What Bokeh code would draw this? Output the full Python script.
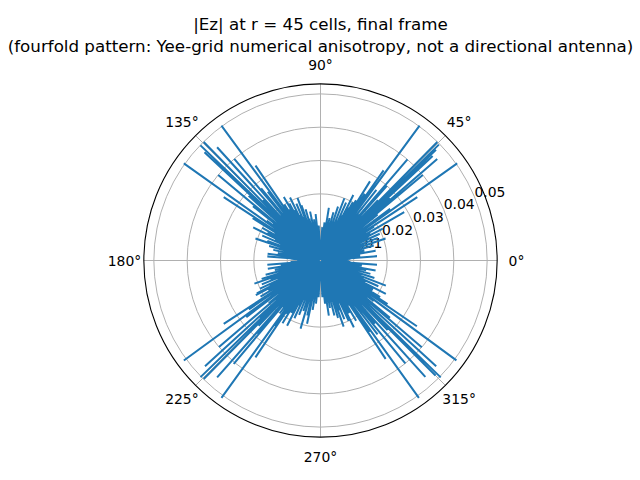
import numpy as np
from bokeh.plotting import figure
from bokeh.models import Range1d
from bokeh.core.properties import value
from bokeh.embed import file_html
from bokeh.resources import INLINE

# ---- data: |Ez| sampled on the ring r = 45 cells, (angle deg, peak, following trough)
ring_q1 = [
    (1.2, 0.0085, 0.0020), (2.8, 0.0090, 0.0012), (4.2, 0.0170, 0.0030), (5.6, 0.0065, 0.0003),
    (7.0, 0.0120, 0.0025), (8.4, 0.0100, 0.0015), (10.0, 0.0168, 0.0034), (11.4, 0.0080, 0.0010),
    (12.8, 0.0135, 0.0022), (14.3, 0.0110, 0.0018), (15.8, 0.0166, 0.0002), (17.2, 0.0120, 0.0028),
    (18.7, 0.0206, 0.0014), (20.1, 0.0140, 0.0031), (21.5, 0.0185, 0.0004), (22.9, 0.0125, 0.0024),
    (24.3, 0.0195, 0.0017), (25.7, 0.0160, 0.0033), (27.0, 0.0210, 0.0011), (28.4, 0.0170, 0.0026),
    (30.0, 0.0290, 0.0003), (31.4, 0.0160, 0.0021), (32.4, 0.0190, 0.0016), (33.2, 0.0347, 0.0029),
    (34.4, 0.0170, 0.0010), (35.4, 0.0503, 0.0023), (36.6, 0.0260, 0.0013), (37.8, 0.0150, 0.0032),
    (38.8, 0.0220, 0.0004), (39.9, 0.0400, 0.0019), (41.0, 0.0464, 0.0027), (42.1, 0.0280, 0.0012),
    (43.0, 0.0460, 0.0035), (43.8, 0.0480, 0.0005), (44.4, 0.0497, 0.0020), (45.4, 0.0499, 0.0015),
    (46.4, 0.0250, 0.0030), (47.5, 0.0160, 0.0002), (48.4, 0.0300, 0.0024), (49.3, 0.0400, 0.0018),
    (50.5, 0.0180, 0.0033), (51.6, 0.0270, 0.0011), (52.7, 0.0150, 0.0026), (53.7, 0.0502, 0.0014),
    (55.0, 0.0330, 0.0029), (56.4, 0.0240, 0.0004), (58.0, 0.0280, 0.0022), (59.5, 0.0210, 0.0016),
    (61.0, 0.0200, 0.0031), (62.5, 0.0180, 0.0010), (63.4, 0.0220, 0.0025), (64.8, 0.0150, 0.0013),
    (66.2, 0.0190, 0.0034), (67.6, 0.0130, 0.0003), (69.0, 0.0200, 0.0021), (70.5, 0.0120, 0.0017),
    (72.0, 0.0170, 0.0028), (73.5, 0.0105, 0.0012), (75.0, 0.0150, 0.0023), (76.5, 0.0095, 0.0005),
    (78.0, 0.0130, 0.0030), (79.5, 0.0085, 0.0015), (81.0, 0.0160, 0.0026), (82.5, 0.0080, 0.0011),
    (84.0, 0.0115, 0.0032), (85.5, 0.0060, 0.0014), (87.0, 0.0100, 0.0024), (88.5, 0.0055, 0.0010),
]
ring_q2 = [
    (91.5, 0.0060, 0.0018), (93.0, 0.0105, 0.0004), (94.5, 0.0070, 0.0027), (96.0, 0.0140, 0.0013),
    (97.5, 0.0090, 0.0031), (99.0, 0.0125, 0.0002), (100.5, 0.0080, 0.0022), (102.0, 0.0150, 0.0016),
    (103.5, 0.0110, 0.0034), (105.0, 0.0130, 0.0011), (106.2, 0.0160, 0.0025), (107.6, 0.0120, 0.0019),
    (109.0, 0.0175, 0.0003), (110.2, 0.0200, 0.0029), (111.6, 0.0140, 0.0014), (113.0, 0.0185, 0.0032),
    (114.4, 0.0150, 0.0010), (115.8, 0.0210, 0.0023), (117.2, 0.0170, 0.0017), (118.6, 0.0195, 0.0030),
    (120.0, 0.0220, 0.0002), (121.4, 0.0180, 0.0021), (122.8, 0.0200, 0.0015), (124.4, 0.0345, 0.0028),
    (125.4, 0.0160, 0.0012), (126.3, 0.0502, 0.0024), (127.5, 0.0260, 0.0005), (128.6, 0.0170, 0.0033),
    (129.5, 0.0280, 0.0018), (130.3, 0.0400, 0.0026), (131.4, 0.0180, 0.0011), (132.4, 0.0460, 0.0030),
    (133.5, 0.0250, 0.0003), (134.6, 0.0499, 0.0020), (135.4, 0.0190, 0.0016), (136.2, 0.0499, 0.0034),
    (137.0, 0.0476, 0.0010), (138.0, 0.0290, 0.0023), (139.1, 0.0160, 0.0014), (140.1, 0.0400, 0.0029),
    (141.2, 0.0260, 0.0004), (142.3, 0.0180, 0.0025), (143.4, 0.0200, 0.0017), (144.6, 0.0503, 0.0031),
    (145.7, 0.0170, 0.0012), (146.8, 0.0347, 0.0022), (148.0, 0.0240, 0.0005), (149.4, 0.0160, 0.0027),
    (150.8, 0.0200, 0.0015), (152.3, 0.0180, 0.0033), (153.8, 0.0225, 0.0011), (155.3, 0.0150, 0.0024),
    (156.8, 0.0190, 0.0018), (158.3, 0.0130, 0.0002), (159.8, 0.0170, 0.0028), (161.3, 0.0206, 0.0013),
    (162.8, 0.0120, 0.0030), (164.3, 0.0160, 0.0010), (165.8, 0.0100, 0.0021), (167.3, 0.0145, 0.0016),
    (168.8, 0.0090, 0.0032), (170.3, 0.0130, 0.0004), (171.6, 0.0080, 0.0024), (172.8, 0.0160, 0.0014),
    (174.2, 0.0095, 0.0029), (175.6, 0.0160, 0.0011), (176.8, 0.0090, 0.0022), (178.3, 0.0070, 0.0012),
]
ring_q3 = [
    (181.5, 0.0065, 0.0021), (183.0, 0.0090, 0.0010), (184.5, 0.0160, 0.0028), (186.0, 0.0120, 0.0014),
    (187.5, 0.0080, 0.0032), (188.9, 0.0160, 0.0003), (190.3, 0.0110, 0.0023), (191.7, 0.0140, 0.0017),
    (193.1, 0.0100, 0.0030), (194.5, 0.0170, 0.0011), (195.9, 0.0130, 0.0026), (197.3, 0.0185, 0.0013),
    (198.5, 0.0150, 0.0034), (199.3, 0.0210, 0.0004), (200.7, 0.0160, 0.0022), (202.1, 0.0190, 0.0016),
    (203.5, 0.0140, 0.0029), (204.9, 0.0200, 0.0002), (206.3, 0.0170, 0.0025), (207.3, 0.0215, 0.0012),
    (208.2, 0.0220, 0.0031), (209.6, 0.0180, 0.0010), (211.0, 0.0210, 0.0020), (212.2, 0.0160, 0.0015),
    (213.2, 0.0347, 0.0033), (214.3, 0.0260, 0.0005), (215.3, 0.0170, 0.0024), (216.2, 0.0508, 0.0018),
    (217.4, 0.0280, 0.0027), (218.5, 0.0160, 0.0011), (219.5, 0.0200, 0.0030), (220.4, 0.0400, 0.0014),
    (221.5, 0.0180, 0.0022), (222.5, 0.0470, 0.0003), (223.4, 0.0250, 0.0035), (224.2, 0.0502, 0.0016),
    (225.4, 0.0499, 0.0026), (226.5, 0.0270, 0.0002), (227.5, 0.0160, 0.0021), (228.5, 0.0468, 0.0013),
    (229.3, 0.0290, 0.0031), (230.0, 0.0405, 0.0010), (231.2, 0.0180, 0.0024), (232.3, 0.0200, 0.0017),
    (233.3, 0.0170, 0.0028), (234.2, 0.0508, 0.0012), (235.2, 0.0240, 0.0023), (236.1, 0.0350, 0.0004),
    (237.4, 0.0190, 0.0030), (238.8, 0.0220, 0.0015), (240.2, 0.0180, 0.0025), (241.6, 0.0180, 0.0011),
    (242.9, 0.0220, 0.0033), (244.3, 0.0150, 0.0014), (245.7, 0.0190, 0.0020), (247.1, 0.0130, 0.0005),
    (248.5, 0.0175, 0.0027), (249.9, 0.0120, 0.0016), (251.3, 0.0160, 0.0031), (252.6, 0.0140, 0.0010),
    (253.7, 0.0213, 0.0022), (255.0, 0.0120, 0.0013), (256.5, 0.0170, 0.0029), (258.0, 0.0194, 0.0003),
    (259.5, 0.0110, 0.0024), (261.0, 0.0150, 0.0018), (262.5, 0.0090, 0.0032), (264.0, 0.0130, 0.0011),
    (265.5, 0.0080, 0.0026), (267.0, 0.0110, 0.0014), (268.5, 0.0060, 0.0020),
]
ring_q4 = [
    (271.5, 0.0060, 0.0015), (273.0, 0.0110, 0.0029), (274.5, 0.0075, 0.0004), (276.0, 0.0130, 0.0024),
    (277.3, 0.0090, 0.0017), (278.6, 0.0167, 0.0033), (280.0, 0.0110, 0.0003), (281.4, 0.0145, 0.0022),
    (282.8, 0.0100, 0.0013), (284.2, 0.0170, 0.0030), (285.6, 0.0130, 0.0011), (287.0, 0.0180, 0.0026),
    (288.2, 0.0150, 0.0019), (289.3, 0.0210, 0.0002), (290.7, 0.0160, 0.0028), (292.1, 0.0190, 0.0014),
    (293.5, 0.0140, 0.0032), (295.0, 0.0200, 0.0010), (296.5, 0.0224, 0.0023), (297.9, 0.0180, 0.0016),
    (299.3, 0.0180, 0.0034), (300.6, 0.0210, 0.0005), (301.8, 0.0160, 0.0021), (303.5, 0.0354, 0.0013),
    (304.6, 0.0260, 0.0027), (305.6, 0.0507, 0.0011), (306.7, 0.0170, 0.0030), (307.7, 0.0280, 0.0018),
    (308.6, 0.0160, 0.0024), (309.5, 0.0400, 0.0003), (310.8, 0.0250, 0.0031), (312.0, 0.0470, 0.0015),
    (313.0, 0.0180, 0.0025), (314.0, 0.0290, 0.0010), (315.0, 0.0488, 0.0022), (315.8, 0.0503, 0.0017),
    (316.7, 0.0190, 0.0033), (317.6, 0.0470, 0.0012), (318.5, 0.0160, 0.0026), (319.4, 0.0400, 0.0004),
    (320.5, 0.0270, 0.0029), (321.6, 0.0180, 0.0014), (322.7, 0.0200, 0.0023), (323.7, 0.0506, 0.0016),
    (324.7, 0.0170, 0.0032), (325.7, 0.0350, 0.0010), (327.0, 0.0240, 0.0024), (328.4, 0.0210, 0.0013),
    (329.8, 0.0180, 0.0028), (331.2, 0.0180, 0.0002), (333.0, 0.0220, 0.0021), (334.5, 0.0150, 0.0018),
    (336.0, 0.0190, 0.0030), (337.5, 0.0140, 0.0011), (339.0, 0.0210, 0.0025), (340.5, 0.0130, 0.0015),
    (342.0, 0.0170, 0.0034), (343.5, 0.0110, 0.0005), (345.0, 0.0155, 0.0022), (346.5, 0.0100, 0.0016),
    (348.0, 0.0140, 0.0027), (349.7, 0.0168, 0.0012), (351.2, 0.0090, 0.0031), (352.7, 0.0125, 0.0003),
    (354.2, 0.0080, 0.0023), (355.8, 0.0170, 0.0014), (357.2, 0.0090, 0.0026), (358.7, 0.0065, 0.0018),
]
r_ticks = [0.01, 0.02, 0.03, 0.04, 0.05]
r_tick_labels = ["0.01", "0.02", "0.03", "0.04", "0.05"]
theta_ticks = [0, 45, 90, 135, 180, 225, 270, 315]
theta_tick_labels = ["0°", "45°", "90°", "135°", "180°", "225°", "270°", "315°"]
r_max = 0.053
title_lines = ["|Ez| at r = 45 cells, final frame",
               "(fourfold pattern: Yee-grid numerical anisotropy, not a directional antenna)"]

# ---- geometry of the page (figure drawn from the page's top-left corner)
S = 3333.3            # px per data unit
CX, CY = 320.0, 260.0 # polar centre in the figure
W, H = 640, 480
x0 = (0 - CX) / S
x1 = (W - CX) / S
y1 = (CY - 0) / S
y0 = (CY - H) / S

FONT = value("DejaVu Sans")

p = figure(width=W, height=H, x_range=Range1d(x0, x1), y_range=Range1d(y0, y1),
           output_backend="svg", toolbar_location=None, min_border=0)
p.axis.visible = False
p.grid.visible = False
p.outline_line_color = None
p.background_fill_color = "white"
p.border_fill_color = "white"

# grid circles
p.circle(x=[0] * len(r_ticks), y=[0] * len(r_ticks), radius=r_ticks,
         fill_color=None, line_color="#b0b0b0", line_width=1)
# radial gridlines
th = np.deg2rad(theta_ticks)
p.segment(x0=[0] * len(th), y0=[0] * len(th), x1=r_max * np.cos(th), y1=r_max * np.sin(th),
          line_color="#b0b0b0", line_width=1)
# outer spine
p.circle(x=[0], y=[0], radius=[r_max], fill_color=None, line_color="black", line_width=1.1)

# theta labels
lab_r = 196 / S
p.text(x=lab_r * np.cos(th), y=lab_r * np.sin(th), text=theta_tick_labels,
       text_align="center", text_baseline="middle", text_font=FONT,
       text_font_size="13.9px", text_color="black")

# r labels at 22.5 deg
ra = np.deg2rad(22.5)
p.text(x=np.array(r_ticks) * np.cos(ra), y=np.array(r_ticks) * np.sin(ra), text=r_tick_labels,
       text_align="left", text_baseline="bottom", text_font=FONT,
       text_font_size="13.9px", text_color="black")

# data path: peak -> trough (midway to next spike) -> next peak ...
ring = ring_q1 + ring_q2 + ring_q3 + ring_q4
deg = [a for a, _, _ in ring]
ang, rad = [], []
for i, (a, pk, tr) in enumerate(ring):
    nxt = deg[(i + 1) % len(deg)]
    if nxt < a:
        nxt += 360
    ang += [a, (a + nxt) / 2]
    rad += [pk, tr]
ang = np.deg2rad(ang[:-1])
rad = np.array(rad[:-1])
p.line(x=rad * np.cos(ang), y=rad * np.sin(ang), line_color="#1f77b4", line_width=2)

# title
p.text(x=[0, 0], y=[(CY - 23) / S, (CY - 45) / S], text=title_lines,
       text_align="center", text_baseline="middle", text_font=FONT,
       text_font_size="16.7px", text_color="black")

open("out.html", "w").write(file_html(p, INLINE))
